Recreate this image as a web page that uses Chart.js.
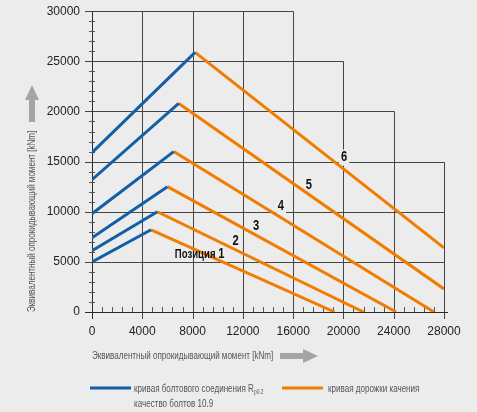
<!DOCTYPE html>
<html>
<head>
<meta charset="utf-8">
<script src="https://cdn.jsdelivr.net/npm/chart.js@4.4.0/dist/chart.umd.min.js"></script>
<style>
  html, body { margin: 0; padding: 0; background: #ececec; }
  #wrap { width: 477px; height: 412px; }
</style>
</head>
<body>
<div id="wrap"><canvas id="c"></canvas></div>
<script>
// Kurven je Position: Schraubenkurve (blau) bis zum Knick, Laufbahnkurve (orange) danach
const tags = ['Позиция 1', '2', '3', '4', '5', '6'];
const boltStartY = [5000, 6100, 7400, 9800, 13200, 15900];
const peakX = [4700, 5200, 6000, 6500, 6900, 8200];
const peakY = [8200, 10000, 12500, 16000, 20800, 25900];
const trackEndX = [19300, 21600, 24200, 27200, 28000, 28000];
const trackEndY = [0, 0, 0, 0, 2300, 6400];

// Beschriftung der Positionen (Datenkoordinaten)
const tagX = [8560, 11430, 13050, 15030, 17260, 20050];
const tagY = [5800, 7100, 8600, 10600, 12700, 15400];

// Treppen-Raster: horizontale Linie bei gridY[i] reicht bis gridYEnd[i]
const gridY = [5000, 10000, 15000, 20000, 25000, 30000];
const gridYEnd = [28000, 28000, 28000, 24000, 20000, 16000];
const gridX = [0, 4000, 8000, 12000, 16000, 20000, 24000, 28000];

const axisTitle = 'Эквивалентный опрокидывающий момент [kNm]';
const legendBolt = ['кривая болтового соединения R', 'p0.2', 'качество болтов 10.9'];
const legendTrack = 'кривая дорожки качения';

const BLUE = '#135fa6';
const ORANGE = '#f07c00';
const FONT = '"Liberation Sans", Arial, sans-serif';

// Text horizontal gestaucht zeichnen (schmale Schrift nachbilden), gibt die Breite zurück
function narrowText(ctx, text, x, y, font, squeeze) {
    ctx.font = font;
    const w = ctx.measureText(text).width * squeeze;
    ctx.save();
    ctx.translate(x, y);
    ctx.scale(squeeze, 1);
    ctx.textAlign = 'left';
    ctx.fillText(text, 0, 0);
    ctx.restore();
    return w;
}
function narrowWidth(ctx, text, font, squeeze) {
    ctx.font = font;
    return ctx.measureText(text).width * squeeze;
}

const datasets = [];
tags.forEach((t, i) => {
    datasets.push({
        data: [{ x: 0, y: boltStartY[i] }, { x: peakX[i], y: peakY[i] }],
        borderColor: BLUE, borderWidth: 3, showLine: true, pointRadius: 0, fill: false
    });
    datasets.push({
        data: [{ x: peakX[i], y: peakY[i] }, { x: trackEndX[i], y: trackEndY[i] }],
        borderColor: ORANGE, borderWidth: 3, showLine: true, pointRadius: 0, fill: false
    });
});

const WORD_FONT = 'bold 12px ' + FONT;
const NUM_FONT = 'bold 14px ' + FONT;
const TAG_SQ = 0.8;
const TXT = '11.5px ' + FONT;
const TXT_SQ = 0.7;

function tagBox(ctx, x, y, i) {
    const parts = tags[i].split(' ');
    const num = parts.pop();
    const word = parts.join(' ');
    const w1 = word ? narrowWidth(ctx, word + ' ', WORD_FONT, TAG_SQ) : 0;
    const w2 = narrowWidth(ctx, num, NUM_FONT, TAG_SQ);
    return { word, num, w1, w2, left: x.getPixelForValue(tagX[i]) - (w1 + w2) / 2, py: y.getPixelForValue(tagY[i]) };
}

const stairGrid = {
    id: 'stairGrid',
    beforeDatasetsDraw(chart) {
        const { ctx, scales: { x, y } } = chart;
        const x0 = x.getPixelForValue(0), y0 = y.getPixelForValue(0);
        const crisp = v => Math.round(v) + 0.5;
        ctx.save();
        ctx.strokeStyle = '#454545';
        ctx.lineWidth = 1;
        gridY.forEach((v, i) => {
            const py = crisp(y.getPixelForValue(v));
            ctx.beginPath();
            ctx.moveTo(x0 - 7, py);
            ctx.lineTo(crisp(x.getPixelForValue(gridYEnd[i])), py);
            ctx.stroke();
        });
        gridX.forEach(v => {
            const top = Math.max(...gridY.filter((g, i) => gridYEnd[i] >= v));
            const px = crisp(x.getPixelForValue(v));
            ctx.beginPath();
            ctx.moveTo(px, y0 + 7);
            ctx.lineTo(px, crisp(y.getPixelForValue(top)));
            ctx.stroke();
        });
        // Achsen
        ctx.strokeStyle = '#2a2a2a';
        ctx.beginPath();
        ctx.moveTo(x0 - 7, crisp(y0));
        ctx.lineTo(x.getPixelForValue(28000) + 4, crisp(y0));
        ctx.moveTo(crisp(x0), y0 + 7);
        ctx.lineTo(crisp(x0), y.getPixelForValue(30000));
        ctx.stroke();
        // Zwischenstriche
        ctx.strokeStyle = '#555';
        for (let v = 1000; v < 30000; v += 1000) {
            if (v % 5000 === 0) continue;
            const py = crisp(y.getPixelForValue(v));
            ctx.beginPath(); ctx.moveTo(x0 - 3, py); ctx.lineTo(x0 + 3, py); ctx.stroke();
        }
        for (let v = 800; v < 28000; v += 800) {
            if (v % 4000 === 0) continue;
            const px = crisp(x.getPixelForValue(v));
            ctx.beginPath(); ctx.moveTo(px, y0); ctx.lineTo(px, y0 - 5); ctx.stroke();
        }
        // Hintergrund hinter den Positionsnummern
        ctx.fillStyle = '#ececec';
        tags.forEach((t, i) => {
            const b = tagBox(ctx, x, y, i);
            ctx.fillRect(b.left + b.w1 - 2, b.py - 8, b.w2 + 4, 16);
        });
        ctx.restore();
    },
    afterDatasetsDraw(chart) {
        const { ctx, scales: { x, y } } = chart;
        ctx.save();
        ctx.fillStyle = '#111';
        ctx.textBaseline = 'middle';
        tags.forEach((t, i) => {
            const b = tagBox(ctx, x, y, i);
            if (b.word) narrowText(ctx, b.word, b.left, b.py + 1, WORD_FONT, TAG_SQ);
            narrowText(ctx, b.num, b.left + b.w1, b.py, NUM_FONT, TAG_SQ);
        });
        ctx.restore();
    },
    afterDraw(chart) {
        const { ctx } = chart;
        ctx.save();
        ctx.fillStyle = '#555';
        ctx.textBaseline = 'middle';
        // Achsentitel
        narrowText(ctx, axisTitle, 92, 356, TXT, TXT_SQ);
        ctx.save();
        ctx.translate(32, 312);
        ctx.rotate(-Math.PI / 2);
        narrowText(ctx, axisTitle, 0, 0, TXT, TXT_SQ);
        ctx.restore();
        // Pfeile
        ctx.fillStyle = '#a4a4a4';
        ctx.fillRect(29, 99, 6, 23);
        ctx.beginPath(); ctx.moveTo(32, 85); ctx.lineTo(39, 100); ctx.lineTo(25, 100); ctx.closePath(); ctx.fill();
        ctx.fillRect(280, 353, 24, 6);
        ctx.beginPath(); ctx.moveTo(318, 356); ctx.lineTo(303, 349); ctx.lineTo(303, 363); ctx.closePath(); ctx.fill();
        // Legende
        ctx.lineWidth = 3;
        ctx.strokeStyle = BLUE;
        ctx.beginPath(); ctx.moveTo(90, 388); ctx.lineTo(131, 388); ctx.stroke();
        ctx.strokeStyle = ORANGE;
        ctx.beginPath(); ctx.moveTo(282, 388); ctx.lineTo(323, 388); ctx.stroke();
        ctx.fillStyle = '#555';
        const w = narrowText(ctx, legendBolt[0], 134, 389, TXT, TXT_SQ);
        narrowText(ctx, legendBolt[1], 134 + w, 392, '7px ' + FONT, TXT_SQ);
        narrowText(ctx, legendBolt[2], 134, 404, TXT, TXT_SQ);
        narrowText(ctx, legendTrack, 328, 389, TXT, TXT_SQ);
        ctx.restore();
    }
};

new Chart(document.getElementById('c'), {
    type: 'scatter',
    data: { datasets },
    options: {
        responsive: true,
        maintainAspectRatio: false,
        animation: false,
        layout: { padding: { left: 0, right: 33, top: 11, bottom: 0 } },
        plugins: { legend: { display: false }, tooltip: { enabled: false } },
        scales: {
            x: {
                type: 'linear', min: 0, max: 28000,
                grid: { display: false }, border: { display: false },
                ticks: { stepSize: 4000, padding: 4, color: '#222', font: { family: FONT, size: 12 }, callback: v => String(v) },
                afterFit: s => { s.height = 100; }
            },
            y: {
                type: 'linear', min: 0, max: 30000,
                grid: { display: false }, border: { display: false },
                ticks: { stepSize: 5000, padding: 4, color: '#222', font: { family: FONT, size: 12 }, callback: v => String(v) },
                afterFit: s => { s.width = 92; }
            }
        }
    },
    plugins: [stairGrid]
});
</script>
</body>
</html>
